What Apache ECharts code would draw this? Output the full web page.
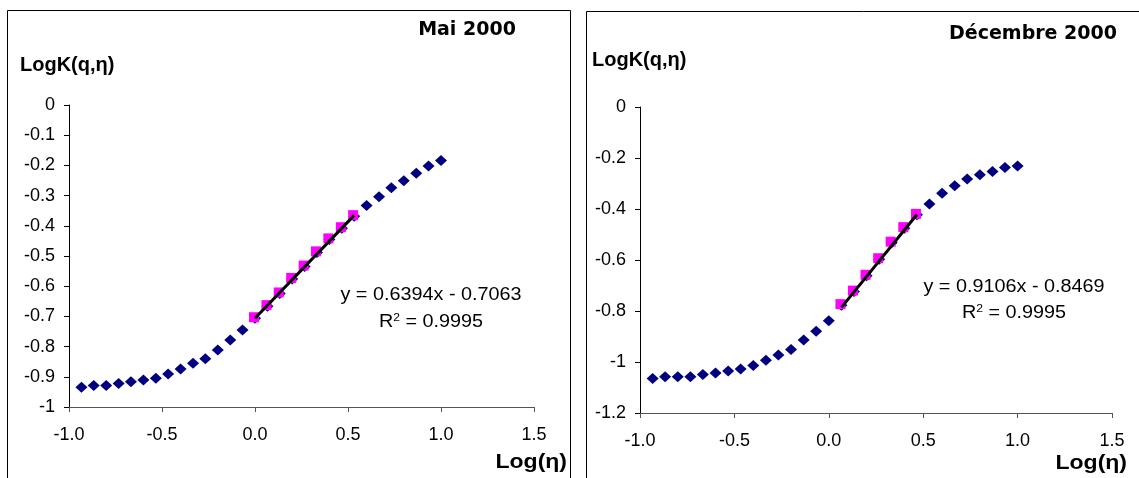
<!DOCTYPE html>
<html>
<head>
<meta charset="utf-8">
<script src="https://cdn.jsdelivr.net/npm/echarts@6/dist/echarts.min.js"></script>
<style>
  html, body { margin: 0; padding: 0; background: #fff; }
  #main { width: 1139px; height: 478px; }
</style>
</head>
<body>
<div id="main"></div>
<script>
// Log(eta) positions, same for both months
var logEta = [-0.933, -0.867, -0.8, -0.733, -0.667, -0.6, -0.533, -0.467, -0.4, -0.333,
              -0.267, -0.2, -0.133, -0.067, 0.0, 0.067, 0.133, 0.2, 0.267, 0.333,
              0.4, 0.467, 0.533, 0.6, 0.667, 0.733, 0.8, 0.867, 0.933, 1.0];

// LogK(q,eta) - mai 2000
var logKMai = [-0.935, -0.929, -0.929, -0.922, -0.916, -0.911, -0.905, -0.891, -0.874, -0.855,
               -0.840, -0.811, -0.778, -0.745, -0.706, -0.666, -0.624, -0.576, -0.535, -0.488,
               -0.445, -0.408, -0.368, -0.333, -0.304, -0.274, -0.251, -0.226, -0.202, -0.184];

// LogK(q,eta) - decembre 2000
var logKDec = [-1.065, -1.058, -1.058, -1.058, -1.049, -1.043, -1.035, -1.027, -1.014, -0.993,
               -0.973, -0.951, -0.914, -0.879, -0.838, -0.777, -0.724, -0.662, -0.597, -0.532,
               -0.475, -0.423, -0.380, -0.338, -0.309, -0.282, -0.266, -0.253, -0.237, -0.231];

// points used for the linear fit (index range) and the fit result
var maiFitRange = [14, 22];
var maiFitCoef = [0.6394, -0.7063];
var maiR2 = '0.9995';
var decFitRange = [15, 21];
var decFitCoef = [0.9106, -0.8469];
var decR2 = '0.9995';

var xTicks = { min: -1, max: 1.5, interval: 0.5 };
var yTicksMai = { min: -1, max: 0, interval: 0.1 };
var yTicksDec = { min: -1.2, max: 0, interval: 0.2 };

var FONT = '"Liberation Sans", Arial, sans-serif';

function pairs(xs, ys, a, b) {
  var out = [];
  for (var i = a; i <= b; i++) out.push([xs[i], ys[i]]);
  return out;
}
function fitLine(xs, range, coef) {
  var x0 = xs[range[0]], x1 = xs[range[1]];
  return [[x0, coef[0] * x0 + coef[1]], [x1, coef[0] * x1 + coef[1]]];
}
function eqText(coef) {
  return 'y = ' + coef[0].toFixed(4) + 'x - ' + Math.abs(coef[1]).toFixed(4);
}

function xAxisCfg(grid) {
  return {
    type: 'value', gridIndex: grid,
    min: xTicks.min, max: xTicks.max, interval: xTicks.interval,
    splitLine: { show: false },
    axisLine: { show: true, onZero: false, lineStyle: { color: '#555', width: 1 } },
    axisTick: { show: true, length: 5, inside: false, lineStyle: { color: '#555' } },
    axisLabel: { margin: 19, color: '#000', fontSize: 18, fontFamily: FONT,
                 formatter: function (v) { return v.toFixed(1); } }
  };
}
function yAxisCfg(grid, t) {
  return {
    type: 'value', gridIndex: grid,
    min: t.min, max: t.max, interval: t.interval,
    splitLine: { show: false },
    axisLine: { show: true, onZero: false, lineStyle: { color: '#000', width: 1 } },
    axisTick: { show: true, length: 5, inside: false, lineStyle: { color: '#000' } },
    axisLabel: { margin: 14, color: '#000', fontSize: 18, fontFamily: FONT }
  };
}

function seriesFor(idx, ys, range, coef) {
  return [{
    type: 'scatter', xAxisIndex: idx, yAxisIndex: idx,
    symbol: 'diamond', symbolSize: [12, 11],
    itemStyle: { color: '#000080', opacity: 1 },
    data: pairs(logEta, ys, 0, ys.length - 1),
    z: 2
  }, {
    type: 'scatter', xAxisIndex: idx, yAxisIndex: idx,
    symbol: 'rect', symbolSize: 10, symbolOffset: [-1, -1],
    itemStyle: { color: '#ff00ff', opacity: 1 },
    data: pairs(logEta, ys, range[0], range[1]),
    z: 3
  }, {
    type: 'line', xAxisIndex: idx, yAxisIndex: idx,
    showSymbol: false, symbol: 'none',
    lineStyle: { color: '#000', width: 3 },
    data: fitLine(logEta, range, coef),
    z: 4
  }];
}

function label(x, y, text, opts, sx) {
  return {
    type: 'text', x: x, y: y, z: 10, scaleX: sx || 1,
    style: Object.assign({
      text: text, fill: '#000', font: 'bold 20px ' + FONT,
      align: 'left', verticalAlign: 'middle'
    }, opts || {})
  };
}
function r2Label(x, y, val) {
  return {
    type: 'text', x: x, y: y, z: 10, scaleX: 1.1,
    style: {
      text: '{r|R}{s|2}{r| = ' + val + '}',
      align: 'center', verticalAlign: 'middle',
      rich: {
        r: { fontSize: 18, fontFamily: FONT, fill: '#000', color: '#000' },
        s: { fontSize: 11, fontFamily: FONT, fill: '#000', color: '#000', verticalAlign: 'top', padding: [0, 0, 8, 0] }
      }
    }
  };
}

var chart = echarts.init(document.getElementById('main'), null, { renderer: 'canvas' });
chart.setOption({
  animation: false,
  backgroundColor: '#fff',
  grid: [
    { left: 69, top: 105, width: 465, height: 302 },
    { left: 640, top: 107, width: 472, height: 306 }
  ],
  xAxis: [xAxisCfg(0), xAxisCfg(1)],
  yAxis: [yAxisCfg(0, yTicksMai), yAxisCfg(1, yTicksDec)],
  series: seriesFor(0, logKMai, maiFitRange, maiFitCoef)
    .concat(seriesFor(1, logKDec, decFitRange, decFitCoef)),
  graphic: [
    { type: 'rect', shape: { x: 7.5, y: 10.5, width: 563, height: 480 },
      style: { fill: null, stroke: '#000', lineWidth: 1 } },
    { type: 'rect', shape: { x: 586.5, y: 11.5, width: 560, height: 480 },
      style: { fill: null, stroke: '#000', lineWidth: 1 } },

    label(467, 30, 'Mai 2000', { align: 'center', font: 'bold 19px "DejaVu Sans", sans-serif' }),
    label(1033, 34, 'Décembre 2000', { align: 'center', font: 'bold 19px "DejaVu Sans", sans-serif' }),

    label(20, 65, 'LogK(q,η)'),
    label(592, 60, 'LogK(q,η)'),
    label(567, 462, 'Log(η)', { align: 'right' }, 1.15),
    label(1127, 463, 'Log(η)', { align: 'right' }, 1.15),

    label(431, 295, eqText(maiFitCoef), { align: 'center', font: '18px ' + FONT }, 1.1),
    r2Label(431, 322, maiR2),
    label(1014, 287, eqText(decFitCoef), { align: 'center', font: '18px ' + FONT }, 1.1),
    r2Label(1014, 313, decR2)
  ]
});
</script>
</body>
</html>
